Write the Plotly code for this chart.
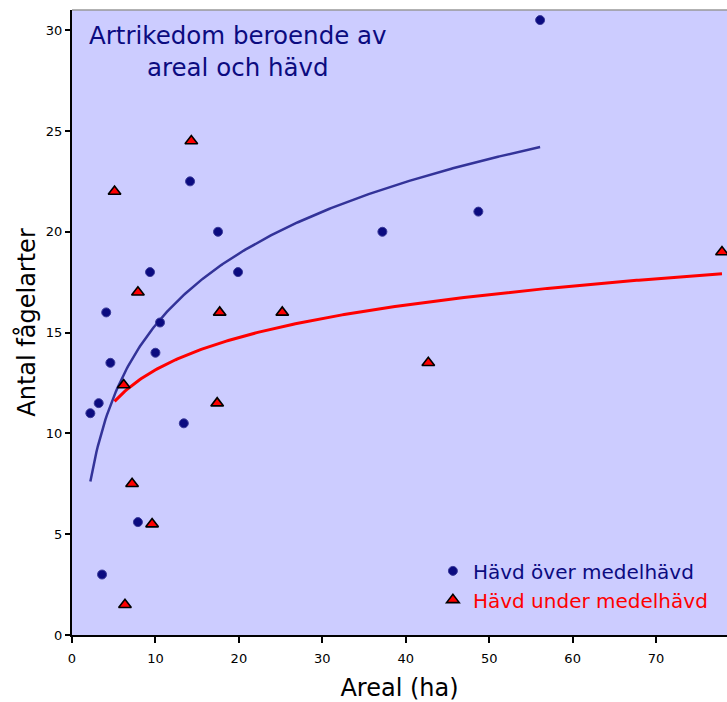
import numpy as np
import plotly.graph_objects as go

# Area (ha) and number of bird species, split by grazing intensity
over_area = [2.2, 3.2, 3.6, 4.1, 4.6, 7.9, 9.35, 10.0, 10.55, 13.4, 14.15, 17.5, 19.9, 37.2, 48.7, 56.1]
over_species = [11.0, 11.5, 3.0, 16.0, 13.5, 5.6, 18.0, 14.0, 15.5, 10.5, 22.5, 20.0, 18.0, 20.0, 21.0, 30.5]

under_area = [5.1, 6.35, 6.2, 7.2, 7.9, 9.6, 14.3, 17.4, 17.7, 25.2, 42.7, 77.9]
under_species = [22.0, 1.5, 12.4, 7.5, 17.0, 5.5, 24.5, 11.5, 16.0, 16.0, 13.5, 19.0]

x_ticks = [0, 10, 20, 30, 40, 50, 60, 70]
y_ticks = [0, 5, 10, 15, 20, 25, 30]

NAVY = "#0b0b80"
TREND_BLUE = "#333399"
RED = "#ff0000"
FONT = "DejaVu Sans"


def log_trend(xs, ys, n=300):
    """Logarithmic least-squares trend y = a*ln(x) + b over the data's x span."""
    xs = np.asarray(xs, dtype=float)
    ys = np.asarray(ys, dtype=float)
    a, b = np.polyfit(np.log(xs), ys, 1)
    xt = np.linspace(xs.min(), xs.max(), n)
    return xt, a * np.log(xt) + b


fig = go.Figure()

tx, ty = log_trend(over_area, over_species)
fig.add_trace(go.Scatter(x=tx, y=ty, mode="lines", line=dict(color=TREND_BLUE, width=2.5),
                         showlegend=False, hoverinfo="skip"))
tx, ty = log_trend(under_area, under_species)
fig.add_trace(go.Scatter(x=tx, y=ty, mode="lines", line=dict(color=RED, width=3),
                         showlegend=False, hoverinfo="skip"))

fig.add_trace(go.Scatter(
    x=over_area, y=over_species, mode="markers",
    name=f"<span style='color:{NAVY}'>Hävd över medelhävd</span>",
    marker=dict(symbol="circle", size=9, color=NAVY, line=dict(color="#3a3a99", width=1)),
))
fig.add_trace(go.Scatter(
    x=under_area, y=under_species, mode="markers",
    name=f"<span style='color:{RED}'>Hävd under medelhävd</span>",
    marker=dict(symbol="triangle-up", size=11, color=RED, line=dict(color="black", width=1.6)),
))

fig.add_annotation(
    text="Artrikedom beroende av<br>areal och hävd",
    xref="paper", yref="paper", x=0.253, y=0.933,
    xanchor="center", yanchor="middle", showarrow=False,
    font=dict(family=FONT, size=24.5, color=NAVY),
)

fig.update_layout(
    width=727, height=702,
    margin=dict(l=72, r=0, t=10, b=67),
    paper_bgcolor="white",
    plot_bgcolor="#ccccff",
    font=dict(family=FONT, size=13, color="black"),
    legend=dict(
        x=0.551, y=0.025, xanchor="left", yanchor="bottom",
        bgcolor="rgba(0,0,0,0)", font=dict(family=FONT, size=20),
        tracegroupgap=0,
    ),
    shapes=[dict(type="line", xref="paper", yref="paper", x0=0, x1=1, y0=1, y1=1,
                 line=dict(color="#999999", width=1.5))],
)

fig.update_xaxes(
    range=[0, 78.5], tickvals=x_ticks, ticks="outside", ticklen=6, tickwidth=1.5,
    tickcolor="black", showline=True, linecolor="black", linewidth=2,
    showgrid=False, zeroline=False, tickfont=dict(family=FONT, size=13),
    ticklabelstandoff=4,
    title=dict(text="Areal (ha)", font=dict(family=FONT, size=24), standoff=17),
)
fig.update_yaxes(
    range=[0, 31], tickvals=y_ticks, ticks="outside", ticklen=5, tickwidth=1.5,
    tickcolor="black", showline=True, linecolor="black", linewidth=2,
    showgrid=False, zeroline=False, tickfont=dict(family=FONT, size=13),
    title=dict(text="Antal fågelarter", font=dict(family=FONT, size=24), standoff=3),
)

fig.write_html("out.html")
